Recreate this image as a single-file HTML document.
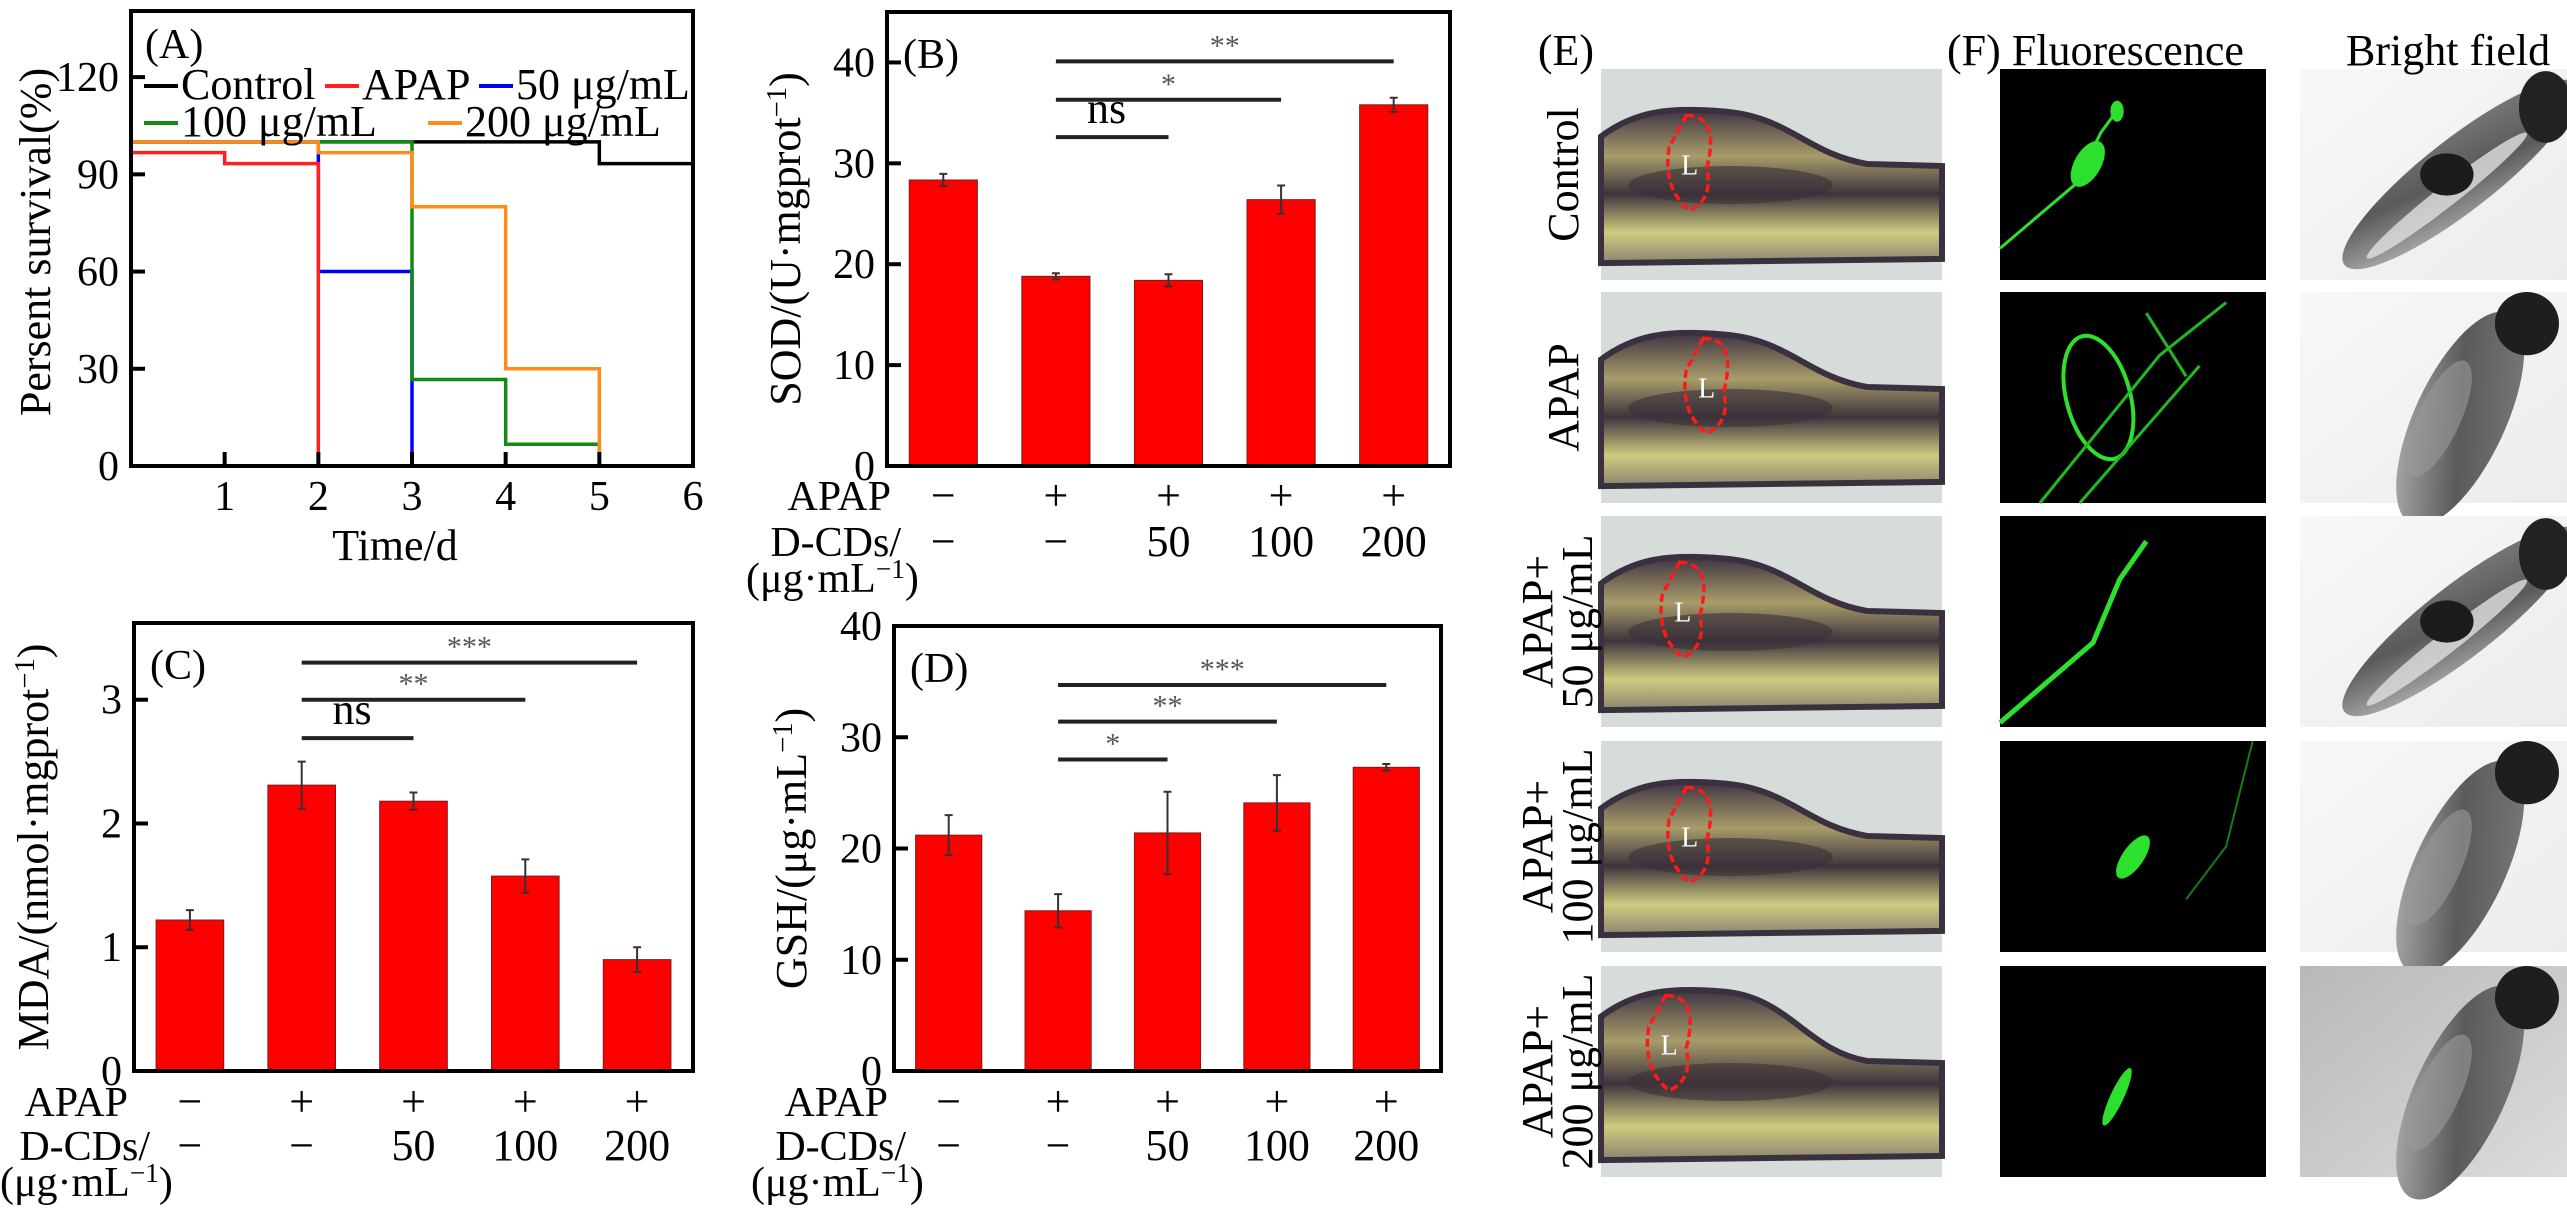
<!DOCTYPE html>
<html><head><meta charset="utf-8"><style>
html,body{margin:0;padding:0;background:#fff;}
svg, svg text{font-family:"Liberation Serif","Times New Roman",Times,"DejaVu Serif",serif;}
</style></head><body>
<svg id="fig" width="2567" height="1210" viewBox="0 0 2567 1210" xmlns="http://www.w3.org/2000/svg"></svg>
<script>
// ---------- Panel A data ----------
const survDays = [0,1,2,3,4,5,6];
const survTicksY = [0,30,60,90,120];
const seriesNames = ['Control','APAP','50 μg/mL','100 μg/mL','200 μg/mL'];
const controlSurv = [100,100,100,100,100,93.3];
const apapSurv = [96.7,93.3];
const d50Surv = [100,100,60];
const d100Surv = [100,100,100,26.7,6.7];
const d200Surv = [100,100,96.7,80,30];
// ---------- Panel B data ----------
const sodVals = [28.35,18.8,18.4,26.4,35.8];
const sodErr = [0.6,0.3,0.6,1.4,0.7];
const sodTicks = [0,10,20,30,40];
const sodSigFrom = [1,1,1];
const sodSigTo = [4,3,2];
const sodSigY = [40.1,36.3,32.6];
const sodSigLabel = ['**','*','ns'];
// ---------- Panel C data ----------
const mdaVals = [1.22,2.31,2.18,1.575,0.90];
const mdaErr = [0.08,0.19,0.07,0.135,0.10];
const mdaTicks = [0,1,2,3];
const mdaSigFrom = [1,1,1];
const mdaSigTo = [4,3,2];
const mdaSigY = [3.30,3.0,2.69];
const mdaSigLabel = ['***','**','ns'];
// ---------- Panel D data ----------
const gshVals = [21.2,14.4,21.4,24.1,27.3];
const gshErr = [1.8,1.5,3.7,2.5,0.3];
const gshTicks = [0,10,20,30,40];
const gshSigFrom = [1,1,1];
const gshSigTo = [4,3,2];
const gshSigY = [34.7,31.4,28.0];
const gshSigLabel = ['***','**','*'];
// ---------- categories ----------
const apapRow = ['−','+','+','+','+'];
const dcdsRow = ['−','−','50','100','200'];

const NS = 'http://www.w3.org/2000/svg';
const fig = document.getElementById('fig');
function mk(tag, attrs, parent){
  const e = document.createElementNS(NS, tag);
  for (const k in attrs) e.setAttribute(k, attrs[k]);
  (parent||fig).appendChild(e);
  return e;
}
function txt(s, attrs, parent){
  const t = mk('text', attrs, parent);
  t.textContent = s;
  return t;
}
function supText(parent, attrs, before, sup, after){
  const t = mk('text', attrs, parent);
  const a = document.createElementNS(NS,'tspan'); a.textContent = before; t.appendChild(a);
  const b = document.createElementNS(NS,'tspan'); b.textContent = sup; b.setAttribute('dy','-14'); b.setAttribute('font-size','0.65em'); t.appendChild(b);
  const c = document.createElementNS(NS,'tspan'); c.textContent = after; c.setAttribute('dy','14'); t.appendChild(c);
  return t;
}

// ================= Panel A =================
(function(){
  const L=131,R=693,T=11,B=466,yMax=140.4,xMax=6;
  const g = mk('g',{});
  
  
  const xs = d => L + (R-L)*d/xMax;
  const ys = v => B - (B-T)*v/yMax;
  function stepPath(vals, toEnd){
    let d = 'M'+xs(0)+','+ys(vals[0]);
    for (let i=0;i<vals.length;i++){
      if (i>0) d += ' V'+ys(vals[i]);
      d += ' H'+xs(i+1);
    }
    if (!toEnd) d += ' V'+ys(0);
    return d;
  }
  const specs = [
    [controlSurv,'#000000',true,'control-line'],
    [d50Surv,'#0000ff',false,'line-50'],
    [d100Surv,'#138a13',false,'line-100'],
    [apapSurv,'#ff2020',false,'apap-line'],
    [d200Surv,'#ff8c1a',false,'line-200']
  ];
  specs.forEach(s=>{
    const p = mk('path',{d:stepPath(s[0],s[2]),fill:'none',stroke:s[1],'stroke-width':3.5},g);
    
    
  });
  const box = mk('rect',{x:L,y:T,width:R-L,height:B-T,fill:'none',stroke:'#000','stroke-width':4},g);
  
  
  survTicksY.forEach(v=>{
    if (v>0){ const tk = mk('line',{x1:L,x2:L+14,y1:ys(v),y2:ys(v),stroke:'#000','stroke-width':4},g);
        }
    const t = txt(String(v),{x:L-12,y:ys(v)+14,'text-anchor':'end','font-size':42},g);
    
    
  });
  survDays.forEach(d=>{
    if (d===0) return;
    if (d<6){ const tk = mk('line',{x1:xs(d),x2:xs(d),y1:B,y2:B-14,stroke:'#000','stroke-width':4},g);
        }
    const t = txt(String(d),{x:xs(d),y:B+44,'text-anchor':'middle','font-size':42},g);
    
    
  });
  const xt = txt('Time/d',{x:395,y:560,'text-anchor':'middle','font-size':44},g);
  
  
  const yt = txt('Persent survival(%)',{x:0,y:0,'text-anchor':'middle','font-size':44,transform:'translate(50,242) rotate(-90)'},g);
  
  
  const lab = txt('(A)',{x:145,y:58,'font-size':42},g);
  
  
  const legColors = ['#000000','#ff2020','#0000ff','#138a13','#ff8c1a'];
  const legX = [144,325,479,144,428];
  const legY = [86,86,86,123,123];
  seriesNames.forEach((n,i)=>{
    const lg = mk('g',{},g);
    
    
    mk('line',{x1:legX[i],x2:legX[i]+34,y1:legY[i],y2:legY[i],stroke:legColors[i],'stroke-width':4},lg);
    txt(n,{x:legX[i]+37,y:legY[i]+13,'font-size':44},lg);
  });
})();

// ================= Bar panels =================
function barPanel(o){
  const g = mk('g',{});
  
  
  const W=o.R-o.L;
  const ys = v => o.B - (o.B-o.T)*v/o.yMax;
  const xc = i => o.L + W*(i+0.5)/5;
  const bw = W*0.121;
  o.vals.forEach((v,i)=>{
    const r = mk('rect',{x:xc(i)-bw/2,y:ys(v),width:bw,height:o.B-ys(v),fill:'#ff0000',stroke:'#7a1a1a','stroke-width':1},g);
    
    
    const e = o.err[i];
    const eb = mk('path',{d:'M'+xc(i)+','+ys(v+e)+' V'+ys(v-e)+' M'+(xc(i)-4)+','+ys(v+e)+' h8 M'+(xc(i)-4)+','+ys(v-e)+' h8',stroke:'#333','stroke-width':2,fill:'none'},g);
    
    
  });
  o.sigFrom.forEach((f,k)=>{
    const x1=xc(f), x2=xc(o.sigTo[k]), y=ys(o.sigY[k]);
    const ln = mk('line',{x1:x1,x2:x2,y1:y,y2:y,stroke:'#222','stroke-width':4},g);
    
    
    const isNs = o.sigLabel[k]==='ns';
    const st = txt(o.sigLabel[k],{x:(x1+x2)/2 - (isNs? (x2-x1)*0.05:0),y:y-(isNs?14:6),'text-anchor':'middle','font-size':isNs?44:30,fill:isNs?'#000':'#555'},g);
    
    
  });
  const box = mk('rect',{x:o.L,y:o.T,width:W,height:o.B-o.T,fill:'none',stroke:'#000','stroke-width':4},g);
  
  
  o.ticks.forEach(v=>{
    if (v>0){ const tk = mk('line',{x1:o.L,x2:o.L+14,y1:ys(v),y2:ys(v),stroke:'#000','stroke-width':4},g);
        }
    const t = txt(String(v),{x:o.L-12,y:ys(v)+14,'text-anchor':'end','font-size':42},g);
    
    
  });
  const yt = supText(g,{'text-anchor':'middle','font-size':44,transform:'translate('+o.ylx+','+(o.T+o.B)/2+') rotate(-90)'},o.yl[0],o.yl[1],o.yl[2]);
  
  
  const pl = txt(o.label,{x:o.L+16,y:o.T+56,'font-size':42},g);
  
  
  const a = txt('APAP',{x:o.L+o.apapDx,y:o.row1,'text-anchor':'end','font-size':42},g);
  
  
  const d = txt('D-CDs/',{x:o.L+o.dcdsDx,y:o.row2,'text-anchor':'end','font-size':42},g);
  
  
  const u = supText(g,{x:o.unitX,y:o.row3,'font-size':42},'(μg·mL','−1',')');
  
  
  apapRow.forEach((s,i)=>{
    const t = txt(s,{x:xc(i),y:o.row1,'text-anchor':'middle','font-size':44},g);
    
    
  });
  dcdsRow.forEach((s,i)=>{
    const t = txt(s,{x:xc(i),y:o.row2,'text-anchor':'middle','font-size':44},g);
    
    
  });
}
barPanel({name:'panel-b-sod-chart',L:887,R:1450,T:12,B:466,yMax:45,vals:sodVals,err:sodErr,ticks:sodTicks,
  sigFrom:sodSigFrom,sigTo:sodSigTo,sigY:sodSigY,sigLabel:sodSigLabel,ylx:800,yl:['SOD/(U·mgprot','−1',')'],
  label:'(B)',row1:510,row2:556,row3:592,apapDx:4,dcdsDx:14,unitX:746});
barPanel({name:'panel-c-mda-chart',L:134,R:693,T:623,B:1071,yMax:3.62,vals:mdaVals,err:mdaErr,ticks:mdaTicks,
  sigFrom:mdaSigFrom,sigTo:mdaSigTo,sigY:mdaSigY,sigLabel:mdaSigLabel,ylx:48,yl:['MDA/(nmol·mgprot','−1',')'],
  label:'(C)',row1:1116,row2:1160,row3:1196,apapDx:-6,dcdsDx:16,unitX:0});
barPanel({name:'panel-d-gsh-chart',L:894,R:1441,T:626,B:1071,yMax:40,vals:gshVals,err:gshErr,ticks:gshTicks,
  sigFrom:gshSigFrom,sigTo:gshSigTo,sigY:gshSigY,sigLabel:gshSigLabel,ylx:806,yl:['GSH/(μg·mL','−1',')'],
  label:'(D)',row1:1116,row2:1160,row3:1196,apapDx:-6,dcdsDx:12,unitX:751});

// ================= Image panels =================
(function(){
  const g = mk('g',{});
  
  
  const defs = mk('defs',{},g);
  defs.innerHTML =
   '<linearGradient id="bfbg" x1="0" y1="0" x2="1" y2="1"><stop offset="0" stop-color="#f8f8f8"/><stop offset="1" stop-color="#ececec"/></linearGradient>'+
   '<linearGradient id="bfgray" x1="0" y1="0" x2="1" y2="1"><stop offset="0" stop-color="#b8b8b8"/><stop offset="1" stop-color="#dcdcdc"/></linearGradient>'+
   '<linearGradient id="fishbody" x1="0" y1="0" x2="0" y2="1"><stop offset="0" stop-color="#3e3442"/><stop offset="0.3" stop-color="#a89c6a"/><stop offset="0.55" stop-color="#3d343c"/><stop offset="0.8" stop-color="#cfcb80"/><stop offset="1" stop-color="#8a8470"/></linearGradient>'+
   '<linearGradient id="bffish" x1="0" y1="1" x2="1" y2="0"><stop offset="0" stop-color="#c0c0c0"/><stop offset="0.5" stop-color="#5a5a5a"/><stop offset="1" stop-color="#808080"/></linearGradient>';
  const rowsY = [69,292,516,741,966];
  const rowH = 211;
  const ex=1601, ew=341, fx=2000, fw=266, bx=2300, bwid=267;
  const rowNames = ['control','apap','apap-50','apap-100','apap-200'];
  const liverX = [0.2,0.25,0.18,0.2,0.14];
  rowsY.forEach((y,r)=>{
    const e = mk('g',{transform:'translate('+ex+','+y+')'},g);
    
    
    mk('rect',{x:0,y:0,width:ew,height:rowH,fill:'#d6dcda'},e);
    const top = r===4?0.12:0.2;
    mk('path',{d:'M0,'+(rowH*(top+0.12))+' C'+(ew*0.1)+','+(rowH*top)+' '+(ew*0.2)+','+(rowH*(top-0.02))+' '+(ew*0.35)+','+(rowH*top)+
      ' C'+(ew*0.55)+','+(rowH*(top+0.02))+' '+(ew*0.6)+','+(rowH*0.4)+' '+(ew*0.78)+','+(rowH*0.45)+' L'+ew+','+(rowH*0.46)+' L'+ew+','+(rowH*0.9)+' L0,'+(rowH*0.92)+' Z',
      fill:'url(#fishbody)',stroke:'#3b3040','stroke-width':6},e);
    mk('ellipse',{cx:ew*0.38,cy:rowH*0.55,rx:ew*0.3,ry:rowH*0.09,fill:'#3a3038',opacity:0.6},e);
    const lx = ew*liverX[r];
    mk('path',{d:'M'+(lx+ew*0.05)+','+(rowH*(top+0.02))+' q'+(ew*0.1)+',0 '+(ew*0.06)+','+(rowH*0.25)+' q'+(ew*0.02)+','+(rowH*0.15)+' -'+(ew*0.05)+','+(rowH*0.2)+' q-'+(ew*0.08)+',-'+(rowH*0.1)+' -'+(ew*0.06)+',-'+(rowH*0.3)+' Z',
      fill:'none',stroke:'#ff1a1a','stroke-width':3.5,'stroke-dasharray':'8 4'},e);
    txt('L',{x:lx+ew*0.06,y:rowH*(top+0.3),'font-size':28,fill:'#fff','text-anchor':'middle'},e);
    const f = mk('g',{transform:'translate('+fx+','+y+')'},g);
    
    
    mk('rect',{x:0,y:0,width:fw,height:rowH,fill:'#000'},f);
    const gr = '#2ee02e';
    if (r===0){
      mk('path',{d:'M0,'+rowH*0.85+' L'+fw*0.28+','+rowH*0.55+' L'+fw*0.38+','+rowH*0.3+' L'+fw*0.45+','+rowH*0.18,stroke:gr,'stroke-width':3,fill:'none'},f);
      mk('ellipse',{cx:fw*0.33,cy:rowH*0.45,rx:fw*0.05,ry:rowH*0.12,fill:gr,transform:'rotate(30 '+fw*0.33+' '+rowH*0.45+')'},f);
      mk('ellipse',{cx:fw*0.44,cy:rowH*0.2,rx:fw*0.025,ry:rowH*0.05,fill:gr},f);
    } else if (r===1){
      mk('ellipse',{cx:fw*0.37,cy:rowH*0.5,rx:fw*0.12,ry:rowH*0.3,fill:'none',stroke:gr,'stroke-width':4,transform:'rotate(-15 '+fw*0.37+' '+rowH*0.5+')'},f);
      mk('path',{d:'M'+fw*0.15+','+rowH+' L'+fw*0.6+','+rowH*0.3+' L'+fw*0.85+','+rowH*0.05+' M'+fw*0.3+','+rowH+' L'+fw*0.75+','+rowH*0.35+' M'+fw*0.55+','+rowH*0.1+' L'+fw*0.7+','+rowH*0.4,stroke:'#22b822','stroke-width':3,fill:'none'},f);
    } else if (r===2){
      mk('path',{d:'M0,'+rowH*0.98+' L'+fw*0.35+','+rowH*0.6+' L'+fw*0.45+','+rowH*0.3+' L'+fw*0.55+','+rowH*0.12,stroke:gr,'stroke-width':5,fill:'none'},f);
    } else if (r===3){
      mk('ellipse',{cx:fw*0.5,cy:rowH*0.55,rx:fw*0.04,ry:rowH*0.12,fill:gr,transform:'rotate(35 '+fw*0.5+' '+rowH*0.55+')'},f);
      mk('path',{d:'M'+fw*0.95+','+0+' L'+fw*0.85+','+rowH*0.5+' L'+fw*0.7+','+rowH*0.75,stroke:'#1a7a1a','stroke-width':2,fill:'none'},f);
    } else {
      mk('ellipse',{cx:fw*0.44,cy:rowH*0.62,rx:fw*0.025,ry:rowH*0.15,fill:gr,transform:'rotate(25 '+fw*0.44+' '+rowH*0.62+')'},f);
    }
    const b = mk('g',{transform:'translate('+bx+','+y+')'},g);
    
    
    mk('rect',{x:0,y:0,width:bwid,height:rowH,fill:r===4?'url(#bfgray)':'url(#bfbg)'},b);
    const vertical = (r===1||r===3||r===4);
    if (vertical){
      mk('ellipse',{cx:bwid*0.6,cy:rowH*0.6,rx:bwid*0.17,ry:rowH*0.55,fill:'url(#bffish)',transform:'rotate(25 '+bwid*0.6+' '+rowH*0.6+')'},b);
      mk('ellipse',{cx:bwid*0.85,cy:rowH*0.15,rx:bwid*0.12,ry:rowH*0.15,fill:'#1e1e1e'},b);
      mk('ellipse',{cx:bwid*0.52,cy:rowH*0.6,rx:bwid*0.08,ry:rowH*0.3,fill:'#9a9a9a',opacity:0.6,transform:'rotate(25 '+bwid*0.52+' '+rowH*0.6+')'},b);
    } else {
      mk('ellipse',{cx:bwid*0.6,cy:rowH*0.5,rx:bwid*0.55,ry:rowH*0.17,fill:'url(#bffish)',transform:'rotate(-38 '+bwid*0.6+' '+rowH*0.5+')'},b);
      mk('ellipse',{cx:bwid*0.55,cy:rowH*0.6,rx:bwid*0.38,ry:rowH*0.05,fill:'#e0e0e0',opacity:0.8,transform:'rotate(-38 '+bwid*0.55+' '+rowH*0.6+')'},b);
      mk('ellipse',{cx:bwid*0.55,cy:rowH*0.5,rx:bwid*0.1,ry:rowH*0.1,fill:'#1c1c1c'},b);
      mk('ellipse',{cx:bwid*0.92,cy:rowH*0.18,rx:bwid*0.1,ry:rowH*0.17,fill:'#222'},b);
    }
  });
  const h1 = txt('(E)',{x:1566,y:65,'font-size':44,'text-anchor':'middle'},g);
   
  const h2 = txt('(F) Fluorescence',{x:1947,y:65,'font-size':44},g);
   
  const h3 = txt('Bright field',{x:2346,y:65,'font-size':44},g);
   
  const rl1 = [['Control'],['APAP'],['APAP+','50 μg/mL'],['APAP+','100 μg/mL'],['APAP+','200 μg/mL']];
  rl1.forEach((lines,r)=>{
    const cy = rowsY[r]+rowH/2;
    lines.forEach((s,k)=>{
      const x = lines.length===1 ? 1578 : (k===0?1552:1592);
      const t = txt(s,{x:0,y:0,'font-size':44,'text-anchor':'middle',transform:'translate('+x+','+cy+') rotate(-90)'},g);
      
      
    });
  });
})();
</script>
</body></html>
